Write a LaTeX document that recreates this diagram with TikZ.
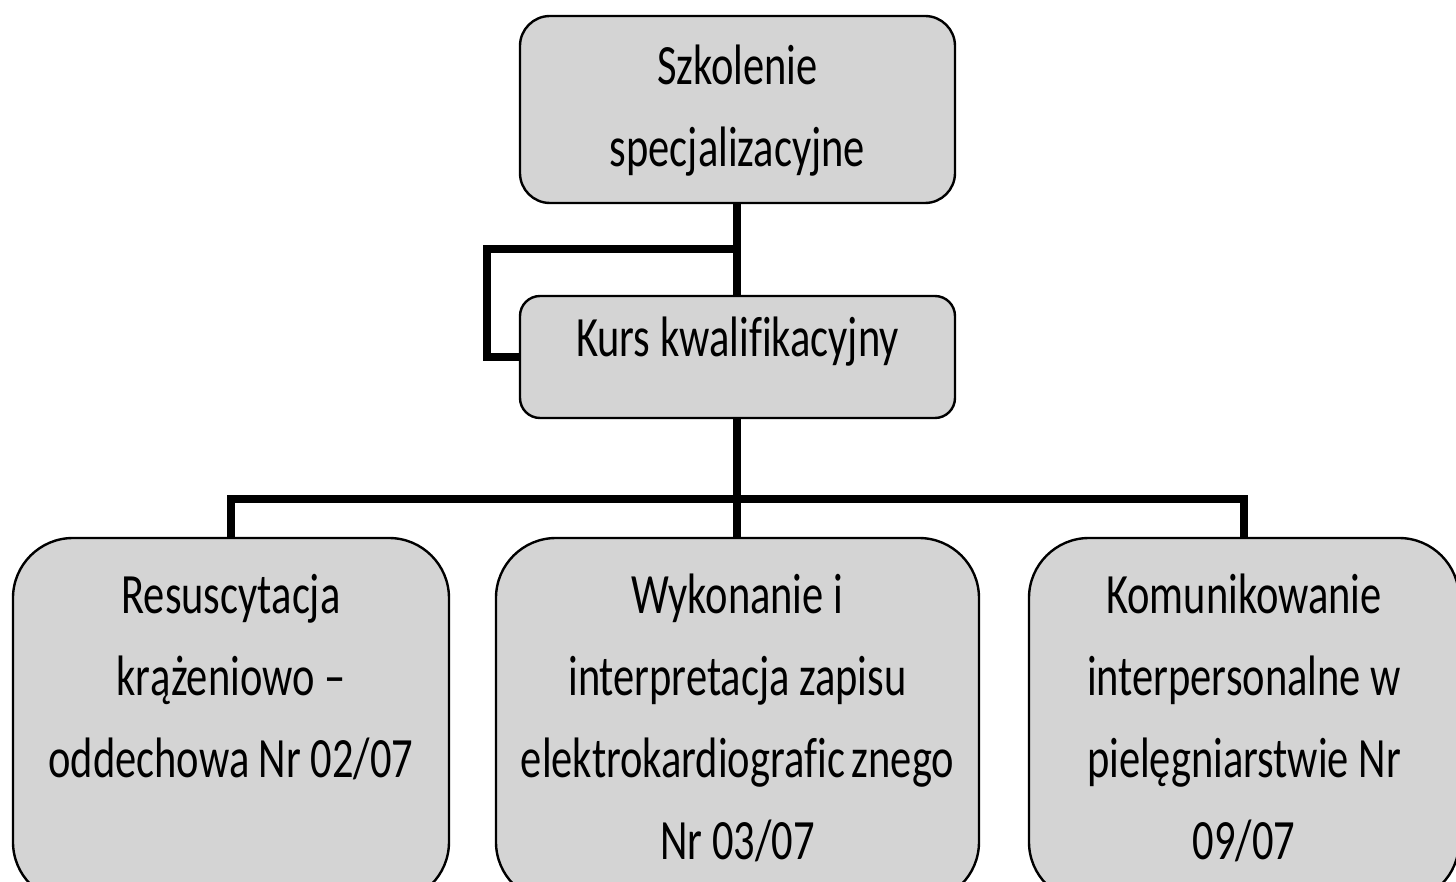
\documentclass[tikz,border=0pt]{standalone}
\usepackage{fontspec}
\setmainfont{Carlito}[FakeStretch=0.745, Ligatures=NoCommon]
\usepackage{tikz}
\usetikzlibrary{positioning, calc}
\definecolor{boxgray}{RGB}{212,212,212}
\tikzstyle{topbox} = [rectangle, rounded corners=15pt, minimum width=217.5pt, minimum height=93.5pt, align=center, draw=black, line width=1.2pt, fill=boxgray, font=\fontsize{28.5}{41}\selectfont]
\tikzstyle{midbox} = [rectangle, rounded corners=10pt, minimum width=217.5pt, minimum height=61pt, text height=14pt, text depth=14pt, align=center, draw=black, line width=1.2pt, fill=boxgray, font=\fontsize{28.5}{41}\selectfont]
\tikzstyle{leafbox} = [rectangle, rounded corners=30pt, minimum width=218pt, minimum height=182pt, align=center, draw=black, line width=1.2pt, fill=boxgray, font=\fontsize{28.5}{41}\selectfont]
\tikzstyle{conn} = [line width=4pt]

\begin{document}
\begin{tikzpicture}[node distance=123.75pt]
		\useasboundingbox (-368.75pt,-386.25pt) rectangle (359.25pt,54.75pt);
		\clip (-368.75pt,-386.25pt) rectangle (359.25pt,54.75pt);
		\node (szkol) [topbox] {\strut Szkolenie\\specjalizacyjne\strut};
		\node (kurs) [midbox, below of=szkol] {Kurs kwalifikacyjny};
		\node (wykon) [leafbox, below of=kurs, yshift=-57.75pt, minimum width=241.5pt] {\strut Wykonanie i\\interpretacja zapisu\\elektrokardiografic\kern0.12em znego\\Nr 03/07\strut};
		\node (resus) [leafbox, left of=wykon, xshift=-129.5pt] {\strut Resuscytacja\\krążeniowo –\\oddechowa Nr 02/07\\\strut};
		\node (komun) [leafbox, right of=wykon, xshift=129.5pt, minimum width=215pt] {\strut Komunikowanie\\interpersonalne w\\pielęgniarstwie Nr\\09/07\strut};
		
		\coordinate (split) at ($(szkol.south)!0.5!(kurs.north)$);
		\coordinate (bus) at ([yshift=-40pt]kurs.south);
		
		\draw [conn] (szkol) -- (kurs);
		\draw [conn] (kurs.west) -- ++(-16pt,0) |- (split);
		\draw [conn] (kurs) -- (bus);
		\draw [conn] (resus.north) |- (bus) -| (komun.north);
		\draw [conn] (bus) -- (bus -| wykon.north) -- (wykon.north);
	\end{tikzpicture}
\end{document}
